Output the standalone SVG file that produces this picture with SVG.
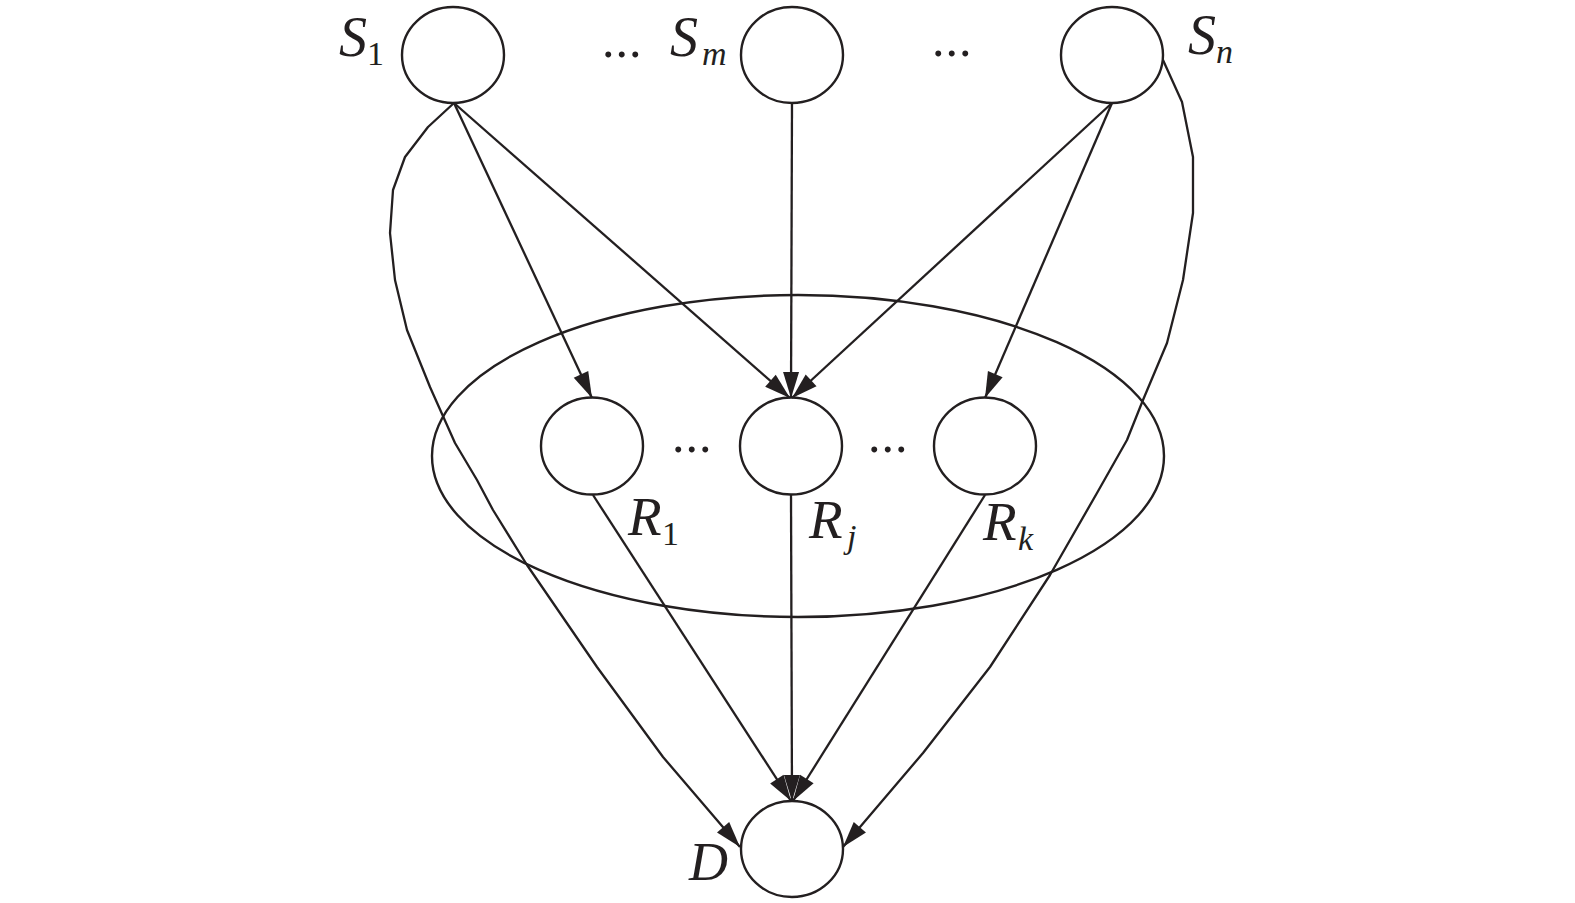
<svg xmlns="http://www.w3.org/2000/svg" width="1575" height="903" viewBox="0 0 1575 903">
<style>
.node{fill:none;stroke:#231f20;stroke-width:2.4}
.edge{fill:none;stroke:#231f20;stroke-width:2.3;stroke-linejoin:round;marker-end:url(#arr)}
.lbl{font-family:"Liberation Serif","Times New Roman",serif;font-style:italic;fill:#231f20}
.sub{font-family:"Liberation Serif","Times New Roman",serif;fill:#231f20}
.dots{font-family:"Liberation Serif","Times New Roman",serif;fill:#231f20;font-size:50px;letter-spacing:1px}
</style>
<defs>
<marker id="arr" markerUnits="userSpaceOnUse" markerWidth="26" markerHeight="16" refX="26" refY="8" orient="auto" overflow="visible">
<path d="M0,0 L26,8 L0,16 Z" fill="#231f20"/>
</marker>
</defs>
<rect width="1575" height="903" fill="#ffffff"/>
<g id="relay-group">
<ellipse cx="798" cy="456" rx="366" ry="161" class="node"/>
</g>
<g id="connectors">
<line x1="454" y1="103" x2="592" y2="398" class="edge"/>
<line x1="454" y1="103" x2="790" y2="398" class="edge"/>
<line x1="792" y1="103" x2="791" y2="398" class="edge"/>
<line x1="1112" y1="103" x2="792" y2="398" class="edge"/>
<line x1="1112" y1="103" x2="985" y2="398" class="edge"/>
<line x1="593" y1="495" x2="791" y2="801" class="edge"/>
<line x1="791" y1="495" x2="792" y2="801" class="edge"/>
<line x1="985" y1="495" x2="793" y2="801" class="edge"/>
<polyline class="edge" points="454,103 428,127 405,157 393,190 390,233 395,280 407,330 430,387 455,443 477,480 493,510 527,565 597,667 663,757 740,847"/>
<polyline class="edge" points="1163,60 1182,102 1193,157 1193,213 1183,280 1167,343 1143,400 1127,440 1097,493 1050,575 990,667 923,753 843,847"/>
</g>
<g id="S1">
<ellipse cx="453" cy="55" rx="51" ry="48" class="node"/>
<text x="339" y="56" class="lbl" font-size="56">S</text>
<text x="367" y="65" class="sub" font-size="34">1</text>
</g>
<text x="602" y="57" class="dots">...</text>
<g id="Sm">
<ellipse cx="792" cy="55" rx="51" ry="48" class="node"/>
<text x="670" y="56" class="lbl" font-size="56">S</text>
<text x="702" y="65" class="lbl" font-size="34">m</text>
</g>
<text x="932" y="56" class="dots">...</text>
<g id="Sn">
<ellipse cx="1112" cy="55" rx="51" ry="48" class="node"/>
<text x="1188" y="54" class="lbl" font-size="56">S</text>
<text x="1216" y="63" class="lbl" font-size="34">n</text>
</g>
<g id="R1">
<ellipse cx="592" cy="446" rx="51" ry="48.5" class="node"/>
<text x="628" y="535" class="lbl" font-size="55">R</text>
<text x="662" y="545" class="sub" font-size="34">1</text>
</g>
<text x="672" y="452" class="dots">...</text>
<g id="Rj">
<ellipse cx="791" cy="446" rx="51" ry="48.5" class="node"/>
<text x="809" y="538" class="lbl" font-size="55">R</text>
<text x="847" y="548" class="lbl" font-size="34">j</text>
</g>
<text x="868" y="452" class="dots">...</text>
<g id="Rk">
<ellipse cx="985" cy="446" rx="51" ry="48.5" class="node"/>
<text x="983" y="540" class="lbl" font-size="55">R</text>
<text x="1018" y="550" class="lbl" font-size="34">k</text>
</g>
<g id="D">
<ellipse cx="792" cy="849" rx="51" ry="48" class="node"/>
<text x="689" y="880" class="lbl" font-size="54">D</text>
</g>
</svg>
